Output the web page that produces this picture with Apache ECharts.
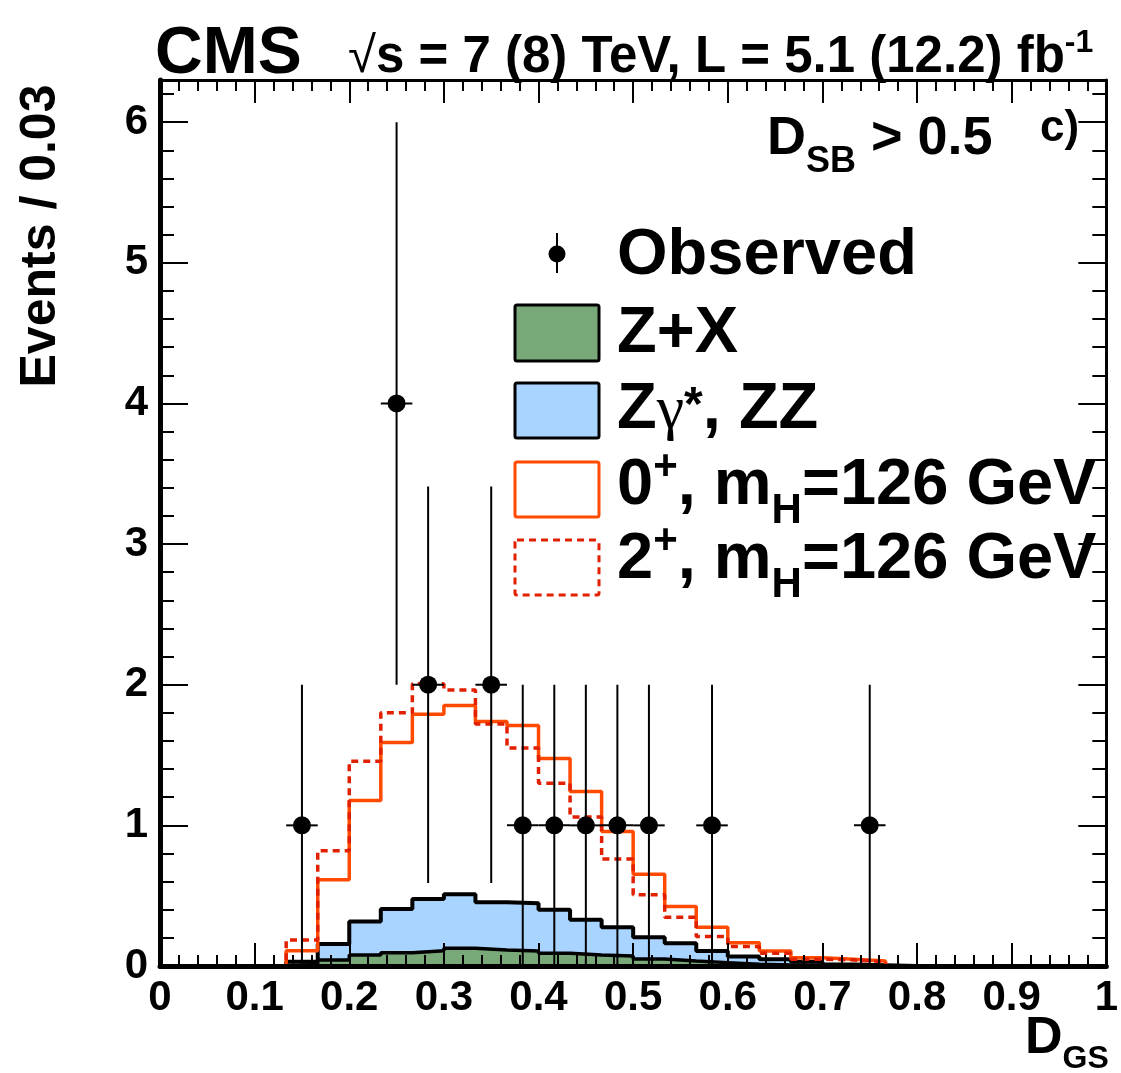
<!DOCTYPE html>
<html>
<head>
<meta charset="utf-8">
<script src="https://cdn.jsdelivr.net/npm/echarts@6/dist/echarts.min.js"></script>
<style>
  html, body { margin: 0; padding: 0; background: #fff; }
  #chart { width: 1121px; height: 1073px; }
</style>
</head>
<body>
<div id="chart"></div>
<script>
// binning: 30 bins between 0 and 1
var nBins = 30;
var xLow = 0, xHigh = 1;

// background and signal expectations per bin
var zxBkg = [0, 0, 0, 0, 0.01, 0.043, 0.078, 0.095, 0.109, 0.126, 0.114, 0.107, 0.09, 0.078, 0.071,
  0.05, 0.036, 0.024, 0.012, 0.008, 0.005, 0, 0, 0, 0, 0, 0, 0, 0, 0];
var zzBkg = [0, 0, 0, 0, 0.02, 0.114, 0.238, 0.311, 0.368, 0.385, 0.34, 0.34, 0.31, 0.25, 0.205,
  0.154, 0.126, 0.083, 0.055, 0.04, 0.025, 0.01, 0.005, 0, 0, 0, 0, 0, 0, 0];
var sig0p = [0, 0, 0, 0, 0.109, 0.613, 1.176, 1.59, 1.79, 1.853, 1.739, 1.71, 1.475, 1.24, 0.957,
  0.653, 0.423, 0.276, 0.166, 0.107, 0.059, 0.048, 0.036, 0, 0, 0, 0, 0, 0, 0];
var sig2p = [0, 0, 0, 0, 0.185, 0.82, 1.456, 1.8, 2.007, 1.962, 1.72, 1.55, 1.3, 1.06, 0.76,
  0.506, 0.347, 0.209, 0.138, 0.09, 0.048, 0.043, 0.03, 0, 0, 0, 0, 0, 0, 0];

// observed events
var obsBin = [4, 7, 8, 10, 11, 12, 13, 14, 15, 17, 22];
var obsN = [1, 4, 2, 2, 1, 1, 1, 1, 1, 1, 1];
var obsErrLo = [1, 2, 1.41, 1.41, 1, 1, 1, 1, 1, 1, 1];
var obsErrHi = [1, 2, 1.41, 1.41, 1, 1, 1, 1, 1, 1, 1];

var xTicks = ['0', '0.1', '0.2', '0.3', '0.4', '0.5', '0.6', '0.7', '0.8', '0.9', '1'];

var FONT = '"Liberation Sans", Arial, Helvetica, sans-serif';
var SERIF = '"Liberation Serif", "Times New Roman", serif';

var binW = (xHigh - xLow) / nBins;

// step outline: two points per bin
function stepPoints(vals) {
  var pts = [];
  for (var i = 0; i < vals.length; i++) {
    pts.push([xLow + i * binW, vals[i]]);
    pts.push([xLow + (i + 1) * binW, vals[i]]);
  }
  return pts;
}

var bkgTotal = zxBkg.map(function (v, i) { return v + zzBkg[i]; });

var obsData = obsBin.map(function (b, i) {
  return [xLow + (b + 0.5) * binW, obsN[i], obsErrLo[i], obsErrHi[i]];
});

// text with sub/superscripts, pieces placed one after another
var mctx = document.createElement('canvas').getContext('2d');
function textRun(x, base, parts) {
  var els = [];
  var cx = x;
  parts.forEach(function (p) {
    var s = p[0], fs = p[1], dy = p[2] || 0, weight = p[3] || 'bold', fam = p[4] || FONT;
    var font = weight + ' ' + fs + 'px ' + fam;
    mctx.font = font;
    els.push({
      type: 'text', z: 100,
      style: {
        text: s, x: cx, y: base + dy - 0.3465 * fs, font: font, fill: '#000',
        textAlign: 'left', verticalAlign: 'middle', textVerticalAlign: 'middle'
      }
    });
    cx += mctx.measureText(s).width;
  });
  return els;
}

var graphics = [];
graphics = graphics.concat(textRun(155, 78, [['CMS', 66]]));
graphics = graphics.concat(textRun(348, 76, [['\u221A', 51, 0, 'normal'],
  ['s = 7 (8) TeV, L = 5.1 (12.2) fb', 51], ['-1', 32, -22]]));
graphics = graphics.concat(textRun(767, 158, [['D', 54], ['SB', 36, 17], [' > 0.5', 54]]));
graphics = graphics.concat(textRun(1040, 144, [['c)', 44]]));
graphics = graphics.concat(textRun(1025, 1057, [['D', 52], ['GS', 32, 13]]));

// legend
graphics = graphics.concat(textRun(617, 279, [['Observed', 65]]));
graphics = graphics.concat(textRun(617, 357, [['Z+X', 65]]));
graphics = graphics.concat(textRun(617, 433, [['Z', 65], ['\u03B3', 62, 0, 'normal', SERIF], ['*', 48, -10], [', ZZ', 65]]));
graphics = graphics.concat(textRun(617, 509, [['0', 65], ['+', 42, -27], [', m', 65], ['H', 42, 17], ['=126 GeV', 65]]));
graphics = graphics.concat(textRun(617, 583, [['2', 65], ['+', 42, -27], [', m', 65], ['H', 42, 17], ['=126 GeV', 65]]));

graphics.push(
  { type: 'line', z: 100, shape: { x1: 557, y1: 233, x2: 557, y2: 273 }, style: { stroke: '#000', lineWidth: 2 } },
  { type: 'circle', z: 100, shape: { cx: 557, cy: 254, r: 8.5 }, style: { fill: '#000' } },
  { type: 'rect', z: 100, shape: { x: 515, y: 305, width: 84, height: 56, r: 2 }, style: { fill: '#7aa979', stroke: '#000', lineWidth: 3 } },
  { type: 'rect', z: 100, shape: { x: 515, y: 383, width: 84, height: 55, r: 2 }, style: { fill: '#a8d4ff', stroke: '#000', lineWidth: 3 } },
  { type: 'rect', z: 100, shape: { x: 515, y: 462, width: 84, height: 55, r: 2 }, style: { fill: '#fff', stroke: '#ff4a00', lineWidth: 3 } },
  { type: 'rect', z: 100, shape: { x: 515, y: 540, width: 84, height: 55, r: 2 }, style: { fill: '#fff', stroke: '#e02000', lineWidth: 3, lineDash: [7, 5] } }
);

// y axis title
graphics.push({
  type: 'text', z: 100, x: 41, y: 236, rotation: Math.PI / 2,
  style: {
    text: 'Events / 0.03', x: 0, y: 0, font: 'bold 50px ' + FONT, fill: '#000',
    textAlign: 'center', verticalAlign: 'middle', textVerticalAlign: 'middle'
  }
});

var tickStyle = { color: '#000', width: 2 };
var labelStyle = { color: '#000', fontFamily: FONT, fontWeight: 'bold', fontSize: 42 };

function xAxisDef(pos) {
  return {
    type: 'value', min: xLow, max: xHigh, interval: 0.1, position: pos, z: 10,
    axisLine: { onZero: false, lineStyle: { color: '#000', width: pos === 'bottom' ? 5 : 3 } },
    axisTick: { inside: true, length: 23, lineStyle: tickStyle },
    minorTick: { show: true, splitNumber: 5, length: 11, lineStyle: tickStyle },
    splitLine: { show: false },
    axisLabel: pos === 'bottom' ? Object.assign({
      margin: 11,
      formatter: function (v) { return xTicks[Math.round(v * 10)]; }
    }, labelStyle) : { show: false }
  };
}

function yAxisDef(pos) {
  return {
    type: 'value', min: 0, max: 6.3, interval: 1, position: pos, z: 10,
    axisLine: { onZero: false, lineStyle: { color: '#000', width: pos === 'left' ? 5 : 3 } },
    axisTick: { inside: true, length: 28, lineStyle: tickStyle },
    minorTick: { show: true, splitNumber: 5, length: 14, lineStyle: tickStyle },
    splitLine: { show: false },
    axisLabel: pos === 'left' ? Object.assign({
      margin: 12, showMaxLabel: false,
      formatter: function (v) { return Number.isInteger(v) ? String(v) : ''; }
    }, labelStyle) : { show: false }
  };
}

var chart = echarts.init(document.getElementById('chart'), null, { renderer: 'canvas' });
chart.setOption({
  animation: false,
  backgroundColor: '#fff',
  grid: { left: 160, right: 11, top: 80, bottom: 107 },
  xAxis: [xAxisDef('bottom'), xAxisDef('top')],
  yAxis: [yAxisDef('left'), yAxisDef('right')],
  graphic: graphics,
  series: [
    {
      name: 'Zgamma*, ZZ', type: 'line', data: stepPoints(bkgTotal), showSymbol: false, symbol: 'none',
      lineStyle: { color: '#000', width: 4 }, areaStyle: { color: '#a8d4ff', opacity: 1 }, z: 2
    },
    {
      name: 'Z+X', type: 'line', data: stepPoints(zxBkg), showSymbol: false, symbol: 'none',
      lineStyle: { color: '#000', width: 3.5 }, areaStyle: { color: '#7aa979', opacity: 1 }, z: 3
    },
    {
      name: '0+', type: 'line', data: stepPoints(sig0p), showSymbol: false, symbol: 'none',
      lineStyle: { color: '#ff4a00', width: 3.5 }, z: 4
    },
    {
      name: '2+', type: 'line', data: stepPoints(sig2p), showSymbol: false, symbol: 'none',
      lineStyle: { color: '#e02000', width: 3.5, type: [7, 5] }, z: 4
    },
    {
      name: 'Observed', type: 'custom', z: 6, clip: false,
      data: obsData,
      encode: { x: 0, y: 1 },
      renderItem: function (params, api) {
        var c = api.value(0), n = api.value(1), lo = api.value(2), hi = api.value(3);
        var p = api.coord([c, n]);
        var pLo = api.coord([c, n - lo]);
        var pHi = api.coord([c, n + hi]);
        var pL = api.coord([c - binW / 2, n]);
        var pR = api.coord([c + binW / 2, n]);
        var st = { stroke: '#000', lineWidth: 2 };
        return {
          type: 'group',
          children: [
            { type: 'line', shape: { x1: p[0], y1: pLo[1], x2: p[0], y2: pHi[1] }, style: st },
            { type: 'line', shape: { x1: pL[0], y1: p[1], x2: pR[0], y2: p[1] }, style: st },
            { type: 'circle', shape: { cx: p[0], cy: p[1], r: 9 }, style: { fill: '#000' } }
          ]
        };
      }
    }
  ]
});
</script>
</body>
</html>
